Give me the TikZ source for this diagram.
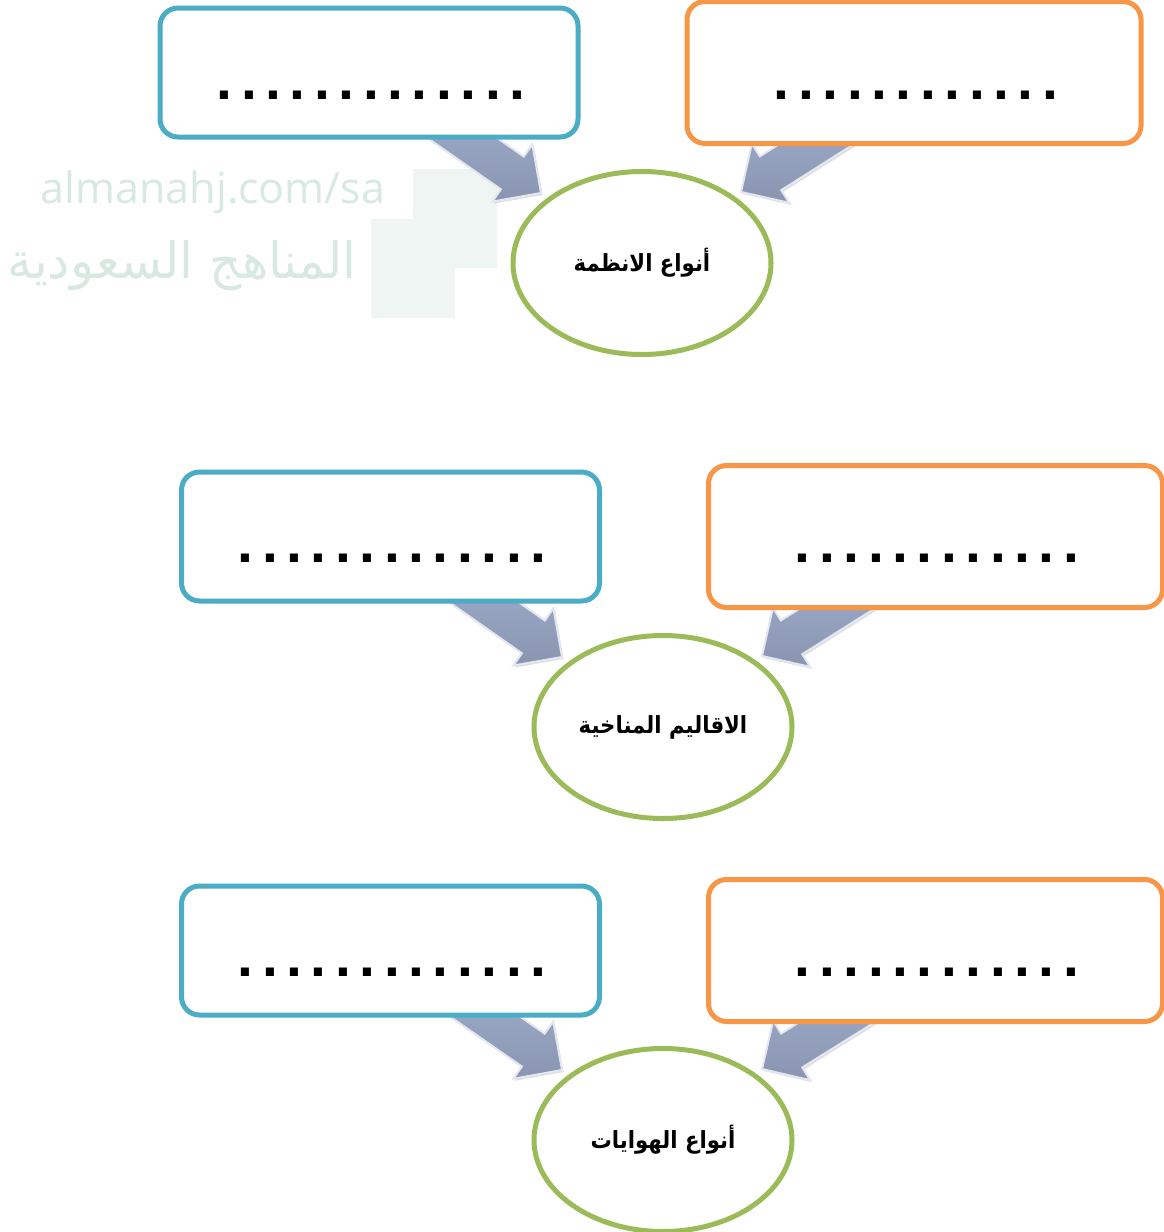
\documentclass[tikz,border=0pt]{standalone}
\usepackage{xcolor}
\usepackage{fontspec}
\usepackage{tikz}
\usetikzlibrary{calc,positioning,shapes.geometric,shadows}
\TeXXeTstate=1
\newfontfamily\arabicfont[Script=Arabic]{DejaVu Sans}
\newfontfamily\topicfont[Script=Arabic]{DejaVu Sans Condensed}
\newfontfamily\dotfont[LetterSpace=15]{Liberation Sans}
\newfontfamily\markfont{Open Sans}
\definecolor{boxblue}{HTML}{4BACC6}
\definecolor{boxorange}{HTML}{F79646}
\definecolor{ringgreen}{HTML}{9BBB59}
\definecolor{markgreen}{HTML}{D8E9E1}
\definecolor{markpale}{HTML}{EFF5F2}
\definecolor{arrowblue}{HTML}{A2B0CF}
\pgfdeclarelayer{background}
\pgfsetlayers{background,main}
\tikzset{
  blue node/.style={rectangle,draw=boxblue,fill=white,line width=2.5pt,rounded corners=9pt,minimum width=209pt,minimum height=64.5pt},
  orange node/.style={rectangle,draw=boxorange,fill=white,line width=2.5pt,rounded corners=9pt,minimum width=227pt,minimum height=71pt},
  topic node/.style={ellipse,draw=ringgreen,fill=white,line width=2.5pt,minimum width=129pt,minimum height=91.5pt,inner sep=0pt,font=\topicfont\bfseries\fontsize{11.8}{14}\selectfont},
  dot node/.style={anchor=base,inner sep=0pt,font=\dotfont\bfseries\fontsize{28.5}{30}\selectfont},
  blockarrow/.style={top color=arrowblue,bottom color=arrowblue!85!black,draw=white!70!arrowblue,line width=1pt,line join=miter,
    drop shadow={opacity=.25,shadow xshift=.8pt,shadow yshift=-1pt},
    to path={($(\tikztostart)!10pt!90:(\tikztotarget)$)
      -- ($(\tikztotarget)!17.5pt!(\tikztostart)!10pt!-90:(\tikztostart)$)
      -- ($(\tikztotarget)!17.5pt!(\tikztostart)!17.5pt!-90:(\tikztostart)$)
      -- (\tikztotarget)
      -- ($(\tikztotarget)!17.5pt!(\tikztostart)!17.5pt!90:(\tikztostart)$)
      -- ($(\tikztotarget)!17.5pt!(\tikztostart)!10pt!90:(\tikztostart)$)
      -- ($(\tikztostart)!10pt!-90:(\tikztotarget)$) -- cycle}}
}
\begin{document}
\begin{tikzpicture}[x=.5pt,y=-.5pt,node distance=272.5pt]
    \useasboundingbox (0,0) rectangle (1163,1232);
    % first row
    \node[blue node] (b1) at (369,72.5) {};
    \node[orange node] (o1) [right of=b1] {};
    \node[topic node] (e1) at (642,263) {\beginR أنواع الانظمة\endR};
    \node[dot node] (d1) at (371,99.5) {.............};
    \node[dot node] (f1) at (916,99.5) {............};
    % second row
    \node[blue node] (b2) at (390.5,536.5) {};
    \node[orange node] (o2) [right of=b2] {};
    \node[topic node] (e2) at (663,727) {\beginR الاقاليم المناخية\endR};
    \node[dot node] (d2) at (392,562.5) {.............};
    \node[dot node] (f2) at (937,562.5) {............};
    % third row
    \node[blue node] (b3) at (390.5,950.5) {};
    \node[orange node] (o3) [right of=b3] {};
    \node[topic node] (e3) at (663,1140) {\beginR أنواع الهوايات\endR};
    \node[dot node] (d3) at (392,976.5) {.............};
    \node[dot node] (f3) at (937,976.5) {............};
    % arrow ends
    \coordinate (bt1) at ($(b1)+(49,34.5)$);
    \coordinate (ot1) at ($(o1)+(-46,39)$);
    \coordinate (bh1) at ($(e1)+(-101,-70)$);
    \coordinate (oh1) at ($(e1)+(99,-71)$);
    \coordinate (bt2) at ($(b2)+(49,34.5)$);
    \coordinate (ot2) at ($(o2)+(-46,39)$);
    \coordinate (bh2) at ($(e2)+(-101,-70)$);
    \coordinate (oh2) at ($(e2)+(99,-71)$);
    \coordinate (bt3) at ($(b3)+(49,34.5)$);
    \coordinate (ot3) at ($(o3)+(-46,39)$);
    \coordinate (bh3) at ($(e3)+(-101,-70)$);
    \coordinate (oh3) at ($(e3)+(99,-71)$);
    \begin{pgfonlayer}{background}
      % watermark
      \fill[markpale] (413,169) -- (497,169) -- (497,268) -- (455,268) -- (455,318) -- (371,318) -- (371,219) -- (413,219) -- cycle;
      \node[text=markgreen,font=\markfont\fontsize{21.5}{24}\selectfont,inner sep=0pt] (m1) at (213,192) {almanahj.com/sa};
      \node[text=markgreen,font=\arabicfont\fontsize{25}{28}\selectfont,inner sep=0pt] (m2) at (182,266) {\beginR المناهج السعودية\endR};
      \draw[blockarrow] (bt1) to (bh1);
      \draw[blockarrow] (ot1) to (oh1);
      \draw[blockarrow] (bt2) to (bh2);
      \draw[blockarrow] (ot2) to (oh2);
      \draw[blockarrow] (bt3) to (bh3);
      \draw[blockarrow] (ot3) to (oh3);
    \end{pgfonlayer}
  \end{tikzpicture}
\end{document}
